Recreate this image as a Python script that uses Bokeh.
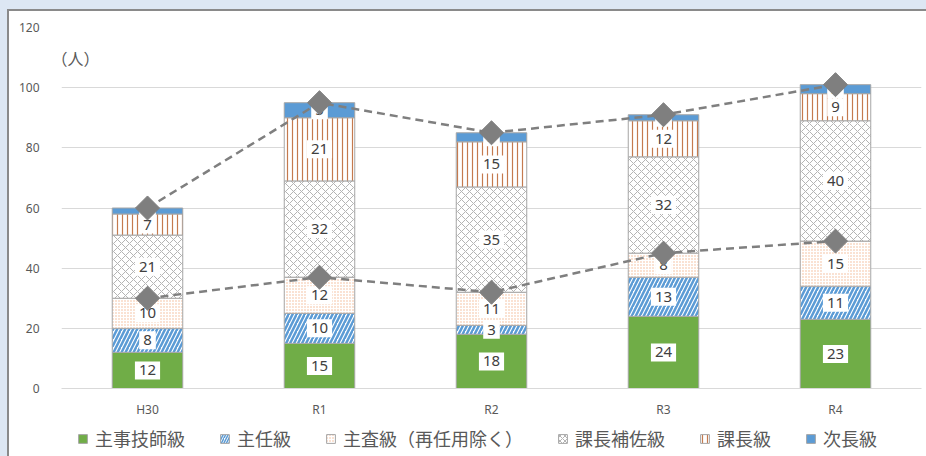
import numpy as np
from bokeh.plotting import figure
from bokeh.layouts import column
from bokeh.models import ColumnDataSource, FactorRange, Legend, LegendItem, Label, FixedTicker, Range1d
from bokeh.embed import file_html
from bokeh.resources import INLINE
from bokeh.core.properties import value

# ---- data ----
years = ["H30", "R1", "R2", "R3", "R4"]
shuji = [12, 15, 18, 24, 23]      # 主事技師級
shunin = [8, 10, 3, 13, 11]       # 主任級
shusa = [10, 12, 11, 8, 15]       # 主査級（再任用除く）
hosa = [21, 32, 35, 32, 40]       # 課長補佐級
kacho = [7, 21, 15, 12, 9]        # 課長級
jicho = [2, 5, 3, 2, 3]           # 次長級
series_names = ["主事技師級", "主任級", "主査級（再任用除く）", "課長補佐級", "課長級", "次長級"]
y_ticks = [0, 20, 40, 60, 80, 100, 120]
unit_label = "（人）"

series = [shuji, shunin, shusa, hosa, kacho, jicho]
keys = ["s%d" % i for i in range(len(series))]

lower_line = [a + b + c for a, b, c in zip(shuji, shunin, shusa)]
upper_line = [sum(v) for v in zip(*series)]

JP = "Noto Sans CJK JP"
NUM = "Noto Sans"

p = figure(x_range=FactorRange(factors=years, range_padding=0),
           y_range=Range1d(0, 120),
           width=917, height=409, output_backend="svg", toolbar_location=None,
           min_border_left=52, min_border_right=5, min_border_top=16, min_border_bottom=32,
           background_fill_color="white", border_fill_color="white",
           outline_line_color=None)

data = dict(x=years)
for k, s in zip(keys, series):
    data[k] = s
src = ColumnDataSource(data)

fills = ["#70ad47", "white", "white", "white", "white", "#5b9bd5"]
hpat = [" ", "/", ".", "x", "|", " "]
hcol = ["#70ad47", "#5b9bd5", "#f3b690", "#b4b4b4", "#c47a4e", "#5b9bd5"]
hscale = [8, 8, 3, 8, 5, 8]
hweight = [1, 2.5, 1, 1, 1.2, 1]

rends = p.vbar_stack(keys, x="x", width=0.41, source=src,
                     fill_color=fills, hatch_pattern=hpat, hatch_color=hcol,
                     hatch_scale=hscale, hatch_weight=hweight,
                     line_color="#a6a6a6", line_width=1)

# data labels
lx, ly, lt = [], [], []
for i, yr in enumerate(years):
    base = 0
    for s in series:
        v = s[i]
        lx.append(yr)
        ly.append(base + v / 2)
        lt.append(str(v))
        base += v
lsrc = ColumnDataSource(dict(x=lx, y=ly, t=lt))
p.text(x="x", y="y", text="t", source=lsrc, text_align="center", text_baseline="middle",
       text_font_size="15px", text_color="#404040", text_font=value(NUM),
       background_fill_color="white", padding=4)

# lines
for ln in (lower_line, upper_line):
    p.line(years, ln, line_color="#7f7f7f", line_width=2.5, line_dash="8 5")
    p.scatter(years, ln, marker="square", angle=np.pi / 4, size=17,
              fill_color="#7f7f7f", line_color="#7f7f7f")

# axes
p.yaxis.ticker = FixedTicker(ticks=y_ticks)
p.yaxis.axis_line_color = None
p.yaxis.major_tick_line_color = None
p.yaxis.minor_tick_line_color = None
p.yaxis.major_label_standoff = 16
p.yaxis.major_label_text_font_size = "12px"
p.yaxis.major_label_text_color = "#595959"
p.yaxis.major_label_text_font = NUM

p.xaxis.axis_line_color = "#d9d9d9"
p.xaxis.major_tick_line_color = None
p.xaxis.minor_tick_line_color = None
p.xaxis.major_label_standoff = 6
p.xaxis.major_label_text_font_size = "12px"
p.xaxis.major_label_text_color = "#595959"
p.xaxis.major_label_text_font = NUM

p.xgrid.grid_line_color = None
p.ygrid.grid_line_color = "#d9d9d9"
p.ygrid.grid_line_width = 1

p.add_layout(Label(x=0.081, y=110, text=unit_label, text_align="center", text_baseline="middle",
                   text_font_size="16px", text_color="#595959", text_font=JP))

# ---- legend strip (separate figure below the chart) ----
pl = figure(width=917, height=36, output_backend="svg", toolbar_location=None,
            x_range=Range1d(0, 1), y_range=Range1d(0, 1),
            x_axis_type=None, y_axis_type=None,
            min_border_left=0, min_border_right=0, min_border_top=0, min_border_bottom=0,
            background_fill_color="white", border_fill_color="white", outline_line_color=None)
pl.xgrid.grid_line_color = None
pl.ygrid.grid_line_color = None
leg_rends = []
for i in range(len(series_names)):
    # one off-range point so that the legend glyph has something to draw from
    r = pl.vbar(x=[-10], top=[-10], bottom=[-11], width=0.1, fill_color=fills[i], hatch_pattern=hpat[i],
                hatch_color=hcol[i], hatch_scale=min(hscale[i], 5), hatch_weight=min(hweight[i], 1.5),
                line_color="#a6a6a6", line_width=1)
    leg_rends.append(r)

legend = Legend(items=[LegendItem(label=n, renderers=[r]) for n, r in zip(series_names, leg_rends)],
                orientation="horizontal", location=(16, 5),
                label_text_font=JP, label_text_font_size="18px", label_text_color="#595959",
                glyph_width=11, glyph_height=11, label_standoff=7, spacing=34, label_height=16,
                padding=0, margin=0, border_line_color=None, background_fill_alpha=0)
pl.add_layout(legend)

layout = column(p, pl, spacing=0,
                styles={"border-left": "2px solid #8a8a8a", "border-top": "2px solid #8a8a8a",
                        "margin-left": "7px", "margin-top": "9px", "background-color": "white"})

html = file_html(layout, INLINE).replace("<body>", '<body style="background-color:#dde7f3;">')
open("out.html", "w").write(html)
